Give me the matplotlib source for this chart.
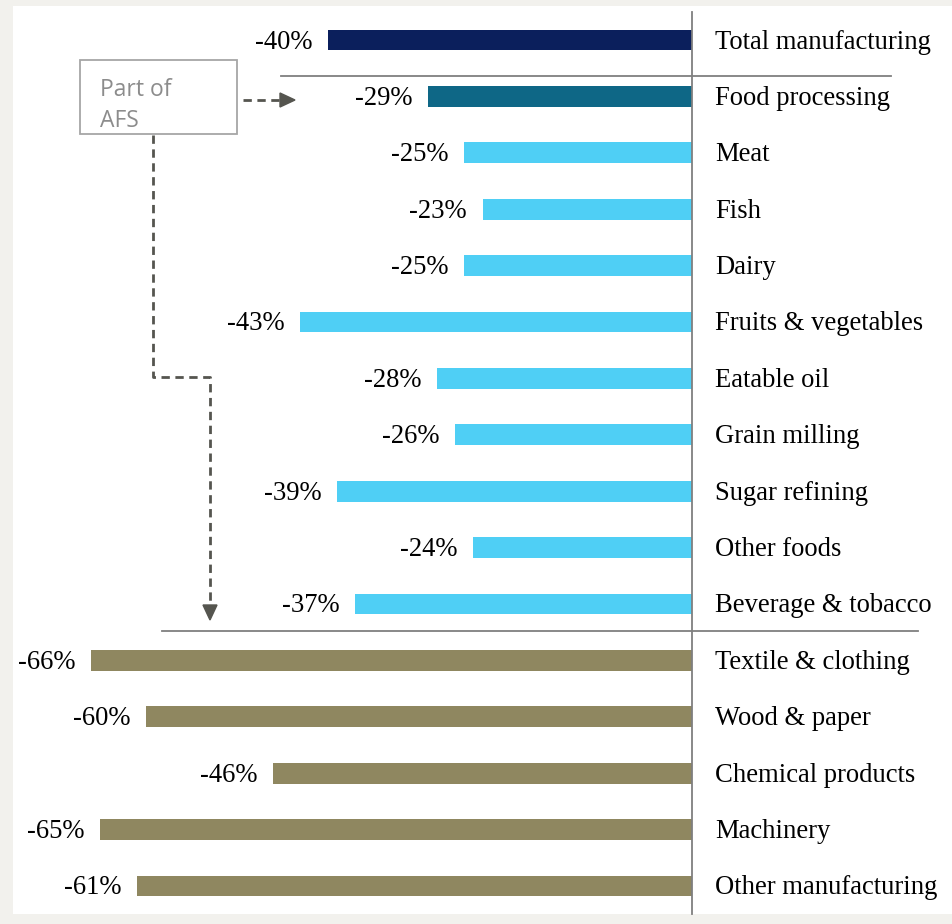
import numpy as np
import matplotlib.pyplot as plt
from matplotlib.patches import Rectangle, Polygon

# data
categories = ["Total manufacturing", "Food processing", "Meat", "Fish", "Dairy",
              "Fruits & vegetables", "Eatable oil", "Grain milling", "Sugar refining",
              "Other foods", "Beverage & tobacco", "Textile & clothing", "Wood & paper",
              "Chemical products", "Machinery", "Other manufacturing"]
values = [-40, -29, -25, -23, -25, -43, -28, -26, -39, -24, -37, -66, -60, -46, -65, -61]
groups = ["total", "food", "afs", "afs", "afs", "afs", "afs", "afs", "afs", "afs", "afs",
          "other", "other", "other", "other", "other"]

group_colors = {"total": "#0b1f5c", "food": "#0e6786", "afs": "#4fcff5", "other": "#8f8760"}

W, H = 953, 924
fig = plt.figure(figsize=(W / 100, H / 100), dpi=100)
fig.patch.set_facecolor("#f2f1ed")

# white panel
ov = fig.add_axes([0, 0, 1, 1])
ov.set_xlim(0, W)
ov.set_ylim(H, 0)
ov.axis("off")
ov.add_patch(Rectangle((13, 6), W - 13, 908, facecolor="white", edgecolor="none", zorder=0))

# main axes: x=0 at px 692, 9.106 px per %, rows 56.4 px apart from y=40
ppu = 9.106
rowh = 56.4
ax = fig.add_axes([0, 0, 1, 1])
ax.patch.set_alpha(0)
ax.set_xlim(-692 / ppu, (W - 692) / ppu)
ax.set_ylim((H - 40) / rowh, -40 / rowh)
ax.axis("off")

y = np.arange(len(categories))
cols = [group_colors[g] for g in groups]
ax.barh(y, values, height=0.37, color=cols, zorder=2)

fs = 19.2
base = 8.5 / rowh  # baseline offset below bar centre
for yi, v, c in zip(y, values, categories):
    ax.text(v - 1.7, yi + base, f"{v}%", ha="right", va="baseline", fontsize=fs,
            family="Liberation Serif", color="black")
    ax.text(2.5, yi + base, c, ha="left", va="baseline", fontsize=fs,
            family="Liberation Serif", color="black")

# axis line and separators
ax.plot([0, 0], [-0.5, 15.5], color="#7f7f7f", lw=1.3, zorder=3)
ax.plot([-45.1, 21.9], [0.64, 0.64], color="#7f7f7f", lw=1.3, zorder=3)
ax.plot([-58.2, 24.8], [10.48, 10.48], color="#7f7f7f", lw=1.3, zorder=3)

# "Part of AFS" box
ov.add_patch(Rectangle((80, 60), 157, 74, facecolor="white", edgecolor="#a6a6a6", lw=1.3, zorder=3))
ov.text(100, 96, "Part of", fontsize=16.5, family="Open Sans", color="#8c8c8c", va="baseline", ha="left", zorder=4)
ov.text(100, 127, "AFS", fontsize=16.5, family="Open Sans", color="#8c8c8c", va="baseline", ha="left", zorder=4)

arrow_c = "#55554f"
dash = (0, (3, 2))
ov.plot([243, 283], [100, 100], color=arrow_c, lw=2, ls=dash, zorder=3)
ov.add_patch(Polygon([[280, 93], [295, 100], [280, 107]], closed=True, color=arrow_c, zorder=3))
ov.plot([153, 153, 210, 210], [135, 377, 377, 607], color=arrow_c, lw=2, ls=dash, zorder=3)
ov.add_patch(Polygon([[203, 605], [217, 605], [210, 620]], closed=True, color=arrow_c, zorder=3))

fig.savefig("out.png", dpi=100, facecolor=fig.get_facecolor())
